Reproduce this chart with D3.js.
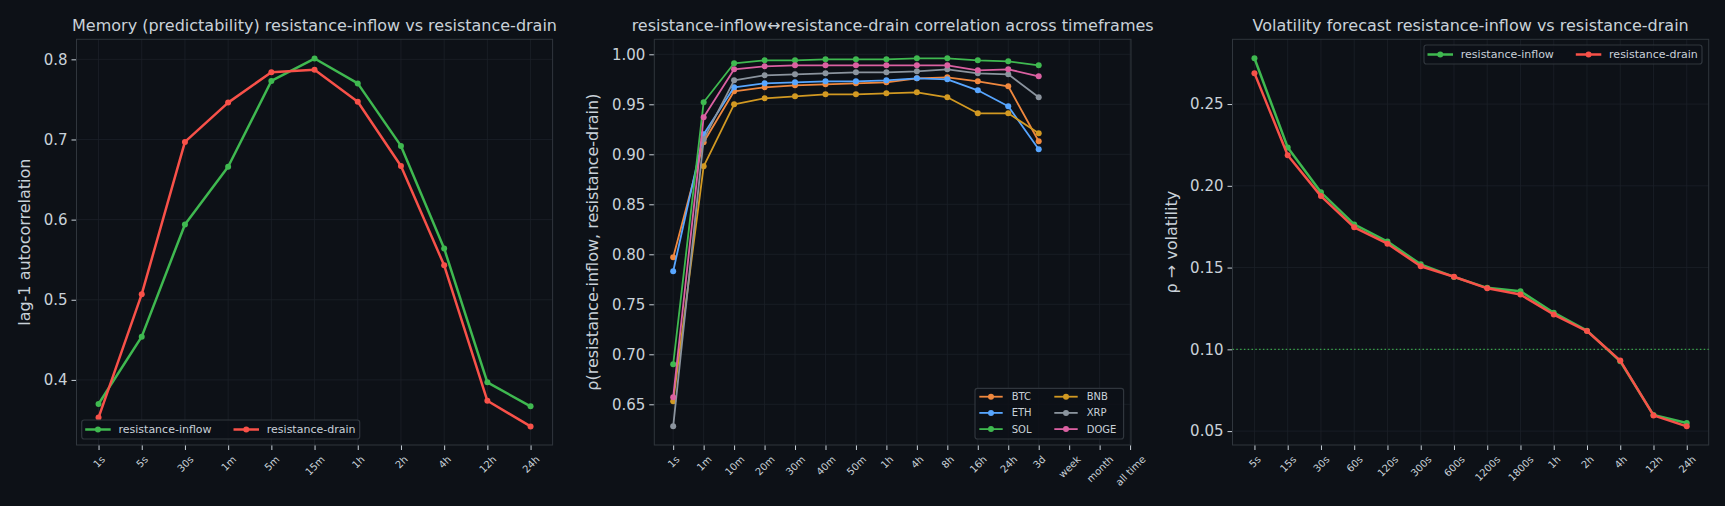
<!DOCTYPE html>
<html>
<head>
<meta charset="utf-8">
<script src="https://cdn.jsdelivr.net/npm/d3@7"></script>
<style>
  html, body { margin: 0; padding: 0; background: #0d1117; }
  svg { display: block; font-family: "DejaVu Sans", sans-serif; }
</style>
</head>
<body>
<div id="chart"></div>
<script>
// ---- data ----
const memTimeframes = ["1s", "5s", "30s", "1m", "5m", "15m", "1h", "2h", "4h", "12h", "24h"];
const memInflow = [0.370, 0.454, 0.594, 0.666, 0.773, 0.801, 0.770, 0.692, 0.564, 0.397, 0.367];
const memDrain = [0.353, 0.507, 0.697, 0.746, 0.784, 0.787, 0.747, 0.667, 0.543, 0.374, 0.342];

const corrTimeframes = ["1s", "1m", "10m", "20m", "30m", "40m", "50m", "1h", "4h", "8h", "16h", "24h", "3d", "week", "month", "all time"];
const corrBTC = [0.797, 0.912, 0.963, 0.967, 0.969, 0.970, 0.971, 0.972, 0.976, 0.977, 0.973, 0.968, 0.913];
const corrETH = [0.783, 0.920, 0.967, 0.971, 0.972, 0.973, 0.973, 0.974, 0.976, 0.975, 0.964, 0.948, 0.905];
const corrSOL = [0.690, 0.952, 0.991, 0.994, 0.994, 0.995, 0.995, 0.995, 0.996, 0.996, 0.994, 0.993, 0.989];
const corrBNB = [0.653, 0.888, 0.950, 0.956, 0.958, 0.960, 0.960, 0.961, 0.962, 0.957, 0.941, 0.941, 0.921];
const corrXRP = [0.628, 0.915, 0.974, 0.979, 0.980, 0.981, 0.982, 0.982, 0.983, 0.985, 0.981, 0.980, 0.957];
const corrDOGE = [0.657, 0.937, 0.985, 0.988, 0.989, 0.989, 0.989, 0.989, 0.989, 0.989, 0.984, 0.985, 0.978];

const volTimeframes = ["5s", "15s", "30s", "60s", "120s", "300s", "600s", "1200s", "1800s", "1h", "2h", "4h", "12h", "24h"];
const volInflow = [0.278, 0.2235, 0.196, 0.1764, 0.1659, 0.152, 0.1443, 0.1376, 0.1355, 0.1224, 0.1114, 0.0927, 0.0598, 0.0549];
const volDrain = [0.2689, 0.2187, 0.1937, 0.1746, 0.1646, 0.1508, 0.1444, 0.1373, 0.1335, 0.1213, 0.1112, 0.0931, 0.0596, 0.0529];
const volThreshold = 0.10;

// ---- style ----
const BG = "#0d1117";
const TEXT = "#c9d1d9";
const SPINE = "#30363d";
const GRID = "#1c2128";
const GREEN = "#3fb950";
const RED = "#f85149";

const width = 1725, height = 506;
const svg = d3.select("#chart").append("svg")
  .attr("width", width)
  .attr("height", height)
  .style("background", BG);

function drawPanel(opt) {
  const { left, right, top, bottom } = opt.frame;
  const n = opt.categories.length;
  const x = d3.scaleLinear().domain(opt.xDomain).range([left, right]);
  const y = d3.scaleLinear().domain(opt.yDomain).range([bottom, top]);
  const g = svg.append("g");

  // grid
  g.append("g").selectAll("line").data(d3.range(n)).join("line")
    .attr("x1", i => x(i)).attr("x2", i => x(i))
    .attr("y1", top).attr("y2", bottom)
    .attr("stroke", GRID).attr("stroke-width", 0.8);
  g.append("g").selectAll("line").data(opt.yTicks).join("line")
    .attr("x1", left).attr("x2", right)
    .attr("y1", d => y(d)).attr("y2", d => y(d))
    .attr("stroke", GRID).attr("stroke-width", 0.8);

  // axes
  const yAxis = d3.axisLeft(y).tickValues(opt.yTicks).tickFormat(opt.yFormat).tickSize(5).tickPadding(4);
  const ya = g.append("g").attr("transform", `translate(${left},0)`).call(yAxis);
  ya.select(".domain").remove();
  ya.selectAll("line").attr("stroke", TEXT);
  ya.selectAll("text").attr("fill", TEXT).attr("font-size", "15px").attr("font-family", "DejaVu Sans");

  const xAxis = d3.axisBottom(x).tickValues(d3.range(n)).tickFormat(i => opt.categories[i]).tickSize(5);
  const xa = g.append("g").attr("transform", `translate(0,${bottom})`).call(xAxis);
  xa.select(".domain").remove();
  xa.selectAll("line").attr("stroke", TEXT);
  // rotated labels, bounding box centred under the tick (like ha="center")
  xa.selectAll("text")
    .attr("fill", TEXT)
    .attr("font-size", "10px")
    .attr("font-family", "DejaVu Sans")
    .attr("text-anchor", "middle")
    .attr("y", 0)
    .attr("dy", "0.35em")
    .attr("transform", function() {
      const w = this.getComputedTextLength();
      const half = (w + 10) / 2 * Math.SQRT1_2;
      return `translate(0,${5 + 4 + half}) rotate(-45)`;
    });

  // frame
  g.append("rect")
    .attr("x", left).attr("y", top)
    .attr("width", right - left).attr("height", bottom - top)
    .attr("fill", "none").attr("stroke", SPINE).attr("stroke-width", 1);

  // title
  g.append("text")
    .attr("x", (left + right) / 2).attr("y", 31)
    .attr("text-anchor", "middle")
    .attr("fill", TEXT).attr("font-size", "16px")
    .text(opt.title);

  // y label
  g.append("text")
    .attr("transform", `translate(${opt.ylabelX},${(top + bottom) / 2}) rotate(-90)`)
    .attr("text-anchor", "middle")
    .attr("dy", "0.35em")
    .attr("fill", TEXT).attr("font-size", "16px")
    .text(opt.ylabel);

  if (opt.hline !== undefined) {
    g.append("line")
      .attr("x1", left).attr("x2", right)
      .attr("y1", y(opt.hline)).attr("y2", y(opt.hline))
      .attr("stroke", GREEN).attr("stroke-width", 1.4)
      .attr("stroke-dasharray", "1.5,2.3").attr("opacity", 0.85);
  }

  const line = d3.line().x((d, i) => x(i)).y(d => y(d));
  opt.series.forEach(s => {
    const sg = g.append("g");
    sg.append("path")
      .datum(s.values)
      .attr("d", line)
      .attr("fill", "none")
      .attr("stroke", s.color)
      .attr("stroke-width", opt.lineWidth)
      .attr("stroke-linejoin", "round");
    sg.selectAll("circle").data(s.values).join("circle")
      .attr("cx", (d, i) => x(i)).attr("cy", d => y(d))
      .attr("r", opt.markerR)
      .attr("fill", s.color);
  });

  // legend
  const L = opt.legend;
  const lg = g.append("g");
  lg.append("rect")
    .attr("x", L.x).attr("y", L.y).attr("width", L.w).attr("height", L.h)
    .attr("rx", 2.5)
    .attr("fill", BG).attr("fill-opacity", 0.85)
    .attr("stroke", SPINE).attr("stroke-width", 1.2);
  opt.series.forEach((s, i) => {
    const col = Math.floor(i / L.rows), row = i % L.rows;
    const ix = L.x + L.padX + col * L.colW;
    const iy = L.y + L.firstY + row * L.rowH;
    lg.append("line")
      .attr("x1", ix).attr("x2", ix + L.lineLen).attr("y1", iy).attr("y2", iy)
      .attr("stroke", s.color).attr("stroke-width", opt.lineWidth);
    lg.append("circle").attr("cx", ix + L.lineLen / 2).attr("cy", iy).attr("r", opt.markerR).attr("fill", s.color);
    lg.append("text")
      .attr("x", ix + L.textOff).attr("y", iy).attr("dy", "0.35em")
      .attr("fill", TEXT).attr("font-size", L.font)
      .text(s.name);
  });
}

drawPanel({
  title: "Memory (predictability) resistance-inflow vs resistance-drain",
  ylabel: "lag-1 autocorrelation",
  ylabelX: 24,
  frame: { left: 76.5, right: 552.6, top: 39.3, bottom: 445 },
  categories: memTimeframes,
  xDomain: [-0.51, memTimeframes.length - 0.49],
  yDomain: [0.3188, 0.825],
  yTicks: [0.4, 0.5, 0.6, 0.7, 0.8],
  yFormat: d3.format(".1f"),
  lineWidth: 2.5, markerR: 3,
  series: [
    { name: "resistance-inflow", color: GREEN, values: memInflow },
    { name: "resistance-drain", color: RED, values: memDrain }
  ],
  legend: { x: 81.7, y: 420, w: 278, h: 19, rows: 1, colW: 148.3, rowH: 17, firstY: 9.5,
            padX: 3.5, lineLen: 25.5, textOff: 33.3, font: "11px" }
});

drawPanel({
  title: "resistance-inflow\u2194resistance-drain correlation across timeframes",
  ylabel: "\u03c1(resistance-inflow, resistance-drain)",
  ylabelX: 592,
  frame: { left: 654.3, right: 1131, top: 39.3, bottom: 445 },
  categories: corrTimeframes,
  xDomain: [-0.62, 15.03],
  yDomain: [0.6093, 1.015],
  yTicks: [0.65, 0.70, 0.75, 0.80, 0.85, 0.90, 0.95, 1.00],
  yFormat: d3.format(".2f"),
  lineWidth: 1.8, markerR: 3,
  series: [
    { name: "BTC", color: "#f0883e", values: corrBTC },
    { name: "ETH", color: "#58a6ff", values: corrETH },
    { name: "SOL", color: "#3fb950", values: corrSOL },
    { name: "BNB", color: "#d29922", values: corrBNB },
    { name: "XRP", color: "#8b949e", values: corrXRP },
    { name: "DOGE", color: "#db61a2", values: corrDOGE }
  ],
  legend: { x: 975, y: 388.3, w: 148.6, h: 50.7, rows: 3, colW: 75, rowH: 16.2, firstY: 8.4,
            padX: 4.3, lineLen: 23.4, textOff: 32.4, font: "10px" }
});

drawPanel({
  title: "Volatility forecast resistance-inflow vs resistance-drain",
  ylabel: "\u03c1 \u2192 volatility",
  ylabelX: 1171,
  frame: { left: 1232.5, right: 1708.7, top: 39.3, bottom: 445 },
  categories: volTimeframes,
  xDomain: [-0.66, 13.66],
  yDomain: [0.0415, 0.2896],
  yTicks: [0.05, 0.10, 0.15, 0.20, 0.25],
  yFormat: d3.format(".2f"),
  lineWidth: 2.5, markerR: 3,
  hline: volThreshold,
  series: [
    { name: "resistance-inflow", color: GREEN, values: volInflow },
    { name: "resistance-drain", color: RED, values: volDrain }
  ],
  legend: { x: 1424, y: 45, w: 278, h: 19, rows: 1, colW: 148.3, rowH: 17, firstY: 9.5,
            padX: 3.5, lineLen: 25.5, textOff: 33.3, font: "11px" }
});
</script>
</body>
</html>
